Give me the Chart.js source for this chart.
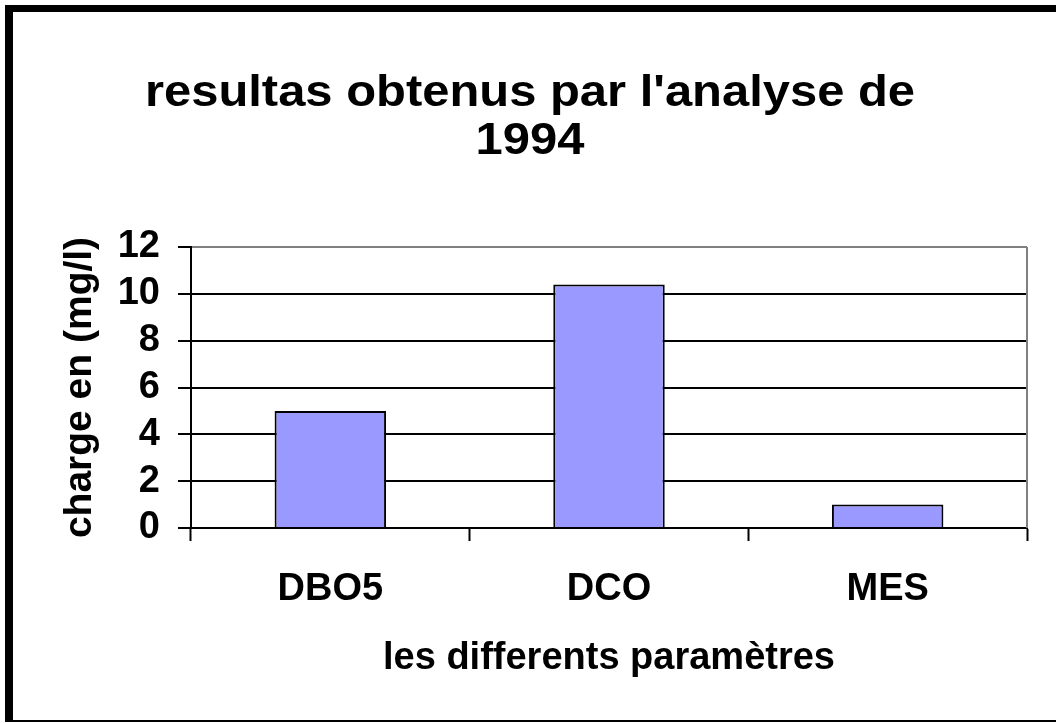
<!DOCTYPE html>
<html>
<head>
<meta charset="utf-8">
<script src="https://cdn.jsdelivr.net/npm/chart.js@4"></script>
<style>
  html, body { margin: 0; padding: 0; background: #fff; }
  #wrap { position: relative; width: 1056px; height: 723px; overflow: hidden; }
  #frame {
    position: absolute; left: 5px; top: 5px; width: 1060px; height: 717px;
    box-sizing: border-box;
    border-top: 7px solid #000; border-left: 8px solid #000; border-bottom: 2px solid #000;
  }
  canvas { position: absolute; left: 0; top: 0; }
</style>
</head>
<body>
<div id="wrap">
  <div id="frame"></div>
  <canvas id="myChart" width="1056" height="723"></canvas>
</div>
<script>
"use strict";
const categories = ["DBO5", "DCO", "MES"];
const charge = [5, 10.4, 1];
const titleLines = ["resultas obtenus par l'analyse de", "1994"];
const yMin = 0, yMax = 12, yStep = 2;

const FONT = "'Liberation Sans', Arial, sans-serif";

// title is drawn a little wider than the font, like the original
const wideTitle = {
  id: "wideTitle",
  afterDraw(chart, args, opts) {
    const { ctx } = chart;
    const pad = chart.options.layout.padding;
    const cx = (pad.left + chart.width - pad.right) / 2;
    ctx.save();
    ctx.fillStyle = "#000";
    ctx.font = "bold " + opts.size + "px " + FONT;
    ctx.textAlign = "center";
    ctx.textBaseline = "middle";
    opts.lines.forEach((line, i) => {
      ctx.save();
      ctx.translate(cx, opts.top + i * opts.lineHeight);
      ctx.scale(opts.stretch, 1);
      ctx.fillText(line, 0, 0);
      ctx.restore();
    });
    ctx.restore();
  },
};

// grey frame on the right side of the plot
const plotFrame = {
  id: "plotFrame",
  afterDraw(chart) {
    const { ctx, chartArea } = chart;
    ctx.save();
    ctx.strokeStyle = "#808080";
    ctx.lineWidth = 2;
    ctx.beginPath();
    ctx.moveTo(chartArea.right, chartArea.top);
    ctx.lineTo(chartArea.right, chartArea.bottom);
    ctx.stroke();
    ctx.restore();
  },
};

const ctx = document.getElementById("myChart").getContext("2d");
const myChart = new Chart(ctx, {
  type: "bar",
  data: {
    labels: categories,
    datasets: [
      {
        label: "charge",
        data: charge,
        backgroundColor: "#9999FF",
        borderColor: "#000",
        borderWidth: 2,
        categoryPercentage: 1,
        barPercentage: 0.4,
      },
    ],
  },
  options: {
    responsive: false,
    animation: false,
    layout: { padding: { left: 33, right: 29, top: 247, bottom: 0 } },
    plugins: {
      legend: { display: false },
      tooltip: { enabled: false },
      title: { display: false },
      wideTitle: { lines: titleLines, size: 45, stretch: 1.087, top: 94, lineHeight: 48 },
    },
    scales: {
      x: {
        offset: true,
        grid: {
          offset: true,
          drawOnChartArea: false,
          drawTicks: true,
          tickLength: 13,
          tickColor: "#000",
          tickWidth: 2,
        },
        border: { color: "#000", width: 2 },
        ticks: {
          color: "#000",
          padding: 26,
          font: { family: FONT, size: 38, weight: "bold" },
        },
        title: {
          display: true,
          text: "les differents paramètres",
          color: "#000",
          font: { family: FONT, size: 38, weight: "bold", lineHeight: 1.2 },
          padding: { top: 0, bottom: 42 },
        },
        afterFit(scale) { scale.height = 195; },
      },
      y: {
        min: yMin,
        max: yMax,
        grid: {
          color: (c) => (c.tick && c.tick.value === yMax ? "#808080" : "#000"),
          lineWidth: 2,
          tickLength: 13,
          tickColor: "#000",
          tickWidth: 2,
        },
        border: { color: "#000", width: 2 },
        ticks: {
          stepSize: yStep,
          autoSkip: false,
          color: "#000",
          padding: 18,
          font: { family: FONT, size: 38, weight: "bold" },
        },
        title: {
          display: true,
          text: "charge en (mg/l)",
          color: "#000",
          font: { family: FONT, size: 39, weight: "bold", lineHeight: 1.2 },
          padding: { top: 24, bottom: 0 },
        },
        afterFit(scale) { scale.width = 158; },
      },
    },
  },
  plugins: [wideTitle, plotFrame],
});
</script>
</body>
</html>
